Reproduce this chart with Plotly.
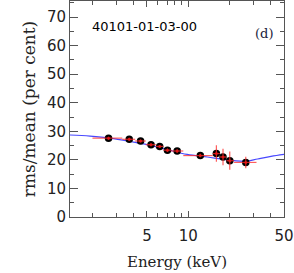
import plotly.graph_objects as go

# Data points (energy keV, rms/mean per cent)
energy = [2.62, 3.71, 4.49, 5.35, 6.19, 7.05, 8.30, 12.25, 16.05, 17.94, 20.1, 26.3]
rms = [27.6, 27.2, 26.6, 25.3, 24.7, 23.4, 23.1, 21.5, 22.2, 21.0, 19.7, 19.1]
rms_err = [0.5, 0.5, 0.5, 0.5, 0.5, 0.6, 0.6, 0.6, 2.9, 2.9, 3.2, 2.0]
e_lo = [2.0, 3.3, 4.1, 4.9, 5.8, 6.6, 7.5, 9.2, 15.1, 17.0, 19.0, 21.6]
e_hi = [3.3, 4.1, 4.9, 5.8, 6.6, 7.5, 9.2, 15.1, 17.0, 19.0, 21.6, 31.5]

# Model curve
model_e = [1.37, 1.92, 2.69, 3.99, 5.29, 7.01, 9.83, 13.8, 17.3, 21.6, 26.3, 32.1, 40.2, 50.0]
model_r = [28.7, 28.3, 27.6, 26.2, 25.1, 23.6, 21.9, 21.0, 20.3, 19.7, 19.5, 20.3, 21.2, 21.9]

x_labels = ["5", "10", "50"]
x_label_vals = [5, 10, 50]
y_ticks = [0, 10, 20, 30, 40, 50, 60, 70]

xerr_plus = [h - e for h, e in zip(e_hi, energy)]
xerr_minus = [e - l for e, l in zip(energy, e_lo)]

fig = go.Figure()
fig.add_trace(go.Scatter(x=model_e, y=model_r, mode="lines", line=dict(color="rgba(40,40,255,0.85)", width=1.2, shape="spline"), hoverinfo="skip"))
fig.add_trace(go.Scatter(x=energy, y=rms, mode="markers", marker=dict(color="black", size=7.5)))
fig.add_trace(go.Scatter(
    x=energy, y=rms, mode="markers", marker=dict(color="rgba(230,20,20,0.9)", size=3),
    error_x=dict(type="data", symmetric=False, array=xerr_plus, arrayminus=xerr_minus, color="rgba(255,40,40,0.75)", thickness=1.2, width=0),
    error_y=dict(type="data", array=rms_err, color="rgba(255,40,40,0.75)", thickness=1.2, width=0),
))

fig.add_annotation(x=0.093, y=0.88, xref="paper", yref="paper", text="40101-01-03-00", showarrow=False,
                   xanchor="left", yanchor="middle", font=dict(family="DejaVu Sans", size=13, color="black"))
fig.add_annotation(x=0.905, y=0.85, xref="paper", yref="paper", text="(d)", showarrow=False,
                   xanchor="center", yanchor="middle", font=dict(family="DejaVu Serif", size=13, color="#1a1a3a"))

axis_common = dict(showline=True, linecolor="#555", linewidth=1, mirror="allticks", ticks="inside",
                   tickcolor="#555", showgrid=False, zeroline=False, automargin=False,
                   tickfont=dict(family="DejaVu Sans", size=15, color="#222"))

fig.update_xaxes(type="log", range=[0.137, 1.699], tickvals=x_label_vals, ticktext=x_labels, ticklen=6,
                 ticklabelstandoff=5,
                 minor=dict(tickvals=[2, 3, 4, 6, 7, 8, 9, 20, 30, 40], ticklen=4, tickcolor="#555", ticks="inside", showgrid=False),
                 title=dict(text="Energy (keV)", font=dict(family="DejaVu Serif", size=15, color="#222"), standoff=12),
                 **axis_common)
fig.update_yaxes(range=[0, 75.6], tickvals=y_ticks, ticklen=8,
                 minor=dict(dtick=5, ticklen=4, tickcolor="#555", ticks="inside", showgrid=False),
                 title=dict(text="rms/mean (per cent)", font=dict(family="DejaVu Serif", size=17, color="#222"), standoff=6),
                 **axis_common)

fig.update_layout(width=294, height=273, margin=dict(l=70, r=10, t=1, b=56), showlegend=False,
                  plot_bgcolor="white", paper_bgcolor="white")
fig.write_html("out.html", config={"displayModeBar": False}, post_script="document.body.style.margin='0';")
